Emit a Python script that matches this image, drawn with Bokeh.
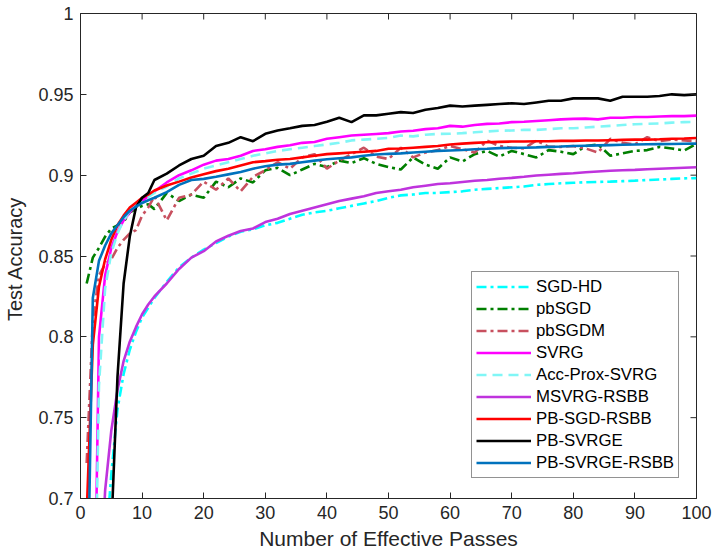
import math
from bokeh.plotting import figure
from bokeh.models import Range1d, FixedTicker, NumeralTickFormatter
from bokeh.embed import file_html
from bokeh.resources import INLINE

# ---------------- data ----------------
passes = list(range(1, 13)) + list(range(14, 101, 2))

sgd_hd = [0.40, 0.50, 0.59, 0.665, 0.715, 0.755, 0.777, 0.792, 0.803, 0.812, 0.818, 0.824,
          0.834, 0.843, 0.849, 0.854, 0.858, 0.862, 0.865, 0.8665, 0.869, 0.8705, 0.873,
          0.8755, 0.877, 0.878, 0.8795, 0.881, 0.8825, 0.884, 0.886, 0.8875, 0.888, 0.889,
          0.889, 0.8895, 0.890, 0.891, 0.8915, 0.892, 0.8925, 0.893, 0.894, 0.8945, 0.895,
          0.8953, 0.8956, 0.8958, 0.896, 0.8963, 0.8966, 0.897, 0.8973, 0.8977, 0.898, 0.8982]

pbsgd = [0.833, 0.849, 0.855, 0.862, 0.867, 0.869, 0.871, 0.877, 0.879, 0.881, 0.882, 0.879,
         0.889, 0.884, 0.888, 0.886, 0.896, 0.8925, 0.898, 0.8955, 0.903, 0.9045, 0.900,
         0.9035, 0.907, 0.905, 0.909, 0.9075, 0.9105, 0.907, 0.905, 0.9035, 0.911, 0.9065,
         0.904, 0.911, 0.9085, 0.913, 0.915, 0.9115, 0.915, 0.913, 0.911, 0.9155, 0.9145,
         0.913, 0.918, 0.919, 0.912, 0.9135, 0.915, 0.9155, 0.9175, 0.9165, 0.9152, 0.9194]

pbsgdm = [0.722, 0.81, 0.838, 0.845, 0.848, 0.855, 0.860, 0.864, 0.866, 0.875, 0.880, 0.887,
          0.872, 0.886, 0.888, 0.896, 0.891, 0.898, 0.890, 0.899, 0.903, 0.908, 0.904,
          0.911, 0.913, 0.904, 0.909, 0.913, 0.917, 0.9115, 0.910, 0.917, 0.911, 0.914,
          0.9155, 0.918, 0.916, 0.914, 0.9214, 0.918, 0.917, 0.9165, 0.9214, 0.9175, 0.9175,
          0.918, 0.9165, 0.914, 0.9225, 0.920, 0.919, 0.9235, 0.921, 0.922, 0.9215, 0.921]

svrg = [0.40, 0.55, 0.80, 0.838, 0.855, 0.865, 0.872, 0.877, 0.881, 0.884, 0.887, 0.890,
        0.8955, 0.900, 0.903, 0.9065, 0.909, 0.910, 0.912, 0.915, 0.916, 0.9175, 0.9185,
        0.920, 0.9205, 0.9225, 0.9235, 0.9245, 0.925, 0.9255, 0.926, 0.927, 0.9275, 0.9285,
        0.929, 0.9305, 0.930, 0.931, 0.9317, 0.932, 0.9328, 0.933, 0.9335, 0.934, 0.9345,
        0.9348, 0.935, 0.9345, 0.9355, 0.9355, 0.936, 0.936, 0.9363, 0.9365, 0.9365, 0.9368]

acc_prox_svrg = [0.40, 0.55, 0.77, 0.83, 0.852, 0.864, 0.872, 0.878, 0.882, 0.884, 0.8865, 0.889,
                 0.893, 0.898, 0.901, 0.904, 0.906, 0.908, 0.910, 0.912, 0.9135, 0.915, 0.916,
                 0.917, 0.918, 0.919, 0.920, 0.9215, 0.922, 0.9225, 0.923, 0.9245, 0.924, 0.925,
                 0.9255, 0.9256, 0.926, 0.9265, 0.927, 0.9275, 0.9276, 0.928, 0.928, 0.9285, 0.929,
                 0.929, 0.9295, 0.930, 0.9305, 0.931, 0.9315, 0.9318, 0.932, 0.9325, 0.9328, 0.933]

msvrg_rsbb = [0.45, 0.55, 0.63, 0.705, 0.742, 0.767, 0.785, 0.797, 0.806, 0.814, 0.820, 0.825,
              0.833, 0.842, 0.849, 0.853, 0.859, 0.8625, 0.8655, 0.867, 0.871, 0.873, 0.876,
              0.878, 0.880, 0.882, 0.884, 0.8855, 0.887, 0.889, 0.890, 0.891, 0.8925, 0.8935,
              0.8945, 0.895, 0.8958, 0.8965, 0.897, 0.8978, 0.8983, 0.899, 0.8998, 0.9003, 0.9008,
              0.9012, 0.9018, 0.9023, 0.9027, 0.903, 0.9033, 0.9037, 0.904, 0.9043, 0.9046, 0.9049]

pb_sgd_rsbb = [0.69, 0.795, 0.831, 0.848, 0.860, 0.869, 0.875, 0.880, 0.883, 0.886, 0.888, 0.8905,
               0.8936, 0.896, 0.8985, 0.9005, 0.9025, 0.904, 0.906, 0.908, 0.9087, 0.9095, 0.910,
               0.911, 0.912, 0.913, 0.9135, 0.914, 0.9145, 0.915, 0.9163, 0.9165, 0.917, 0.9175,
               0.918, 0.919, 0.9195, 0.920, 0.9204, 0.9206, 0.9208, 0.9208, 0.921, 0.921, 0.9212,
               0.9212, 0.9214, 0.9214, 0.9216, 0.9218, 0.922, 0.922, 0.9222, 0.9225, 0.9227, 0.923]

pb_svrge = [0.40, 0.48, 0.55, 0.62, 0.68, 0.775, 0.833, 0.862, 0.880, 0.886, 0.889, 0.897,
            0.901, 0.906, 0.910, 0.912, 0.918, 0.920, 0.9235, 0.921, 0.9256, 0.9276, 0.929,
            0.9305, 0.931, 0.933, 0.9355, 0.9328, 0.937, 0.937, 0.938, 0.939, 0.9385, 0.9405,
            0.9415, 0.943, 0.9425, 0.943, 0.9435, 0.944, 0.9445, 0.944, 0.945, 0.946, 0.946,
            0.9475, 0.9475, 0.9475, 0.946, 0.9485, 0.9485, 0.9485, 0.949, 0.950, 0.9495, 0.950]

pb_svrge_rsbb = [0.60, 0.824, 0.847, 0.8565, 0.864, 0.869, 0.874, 0.878, 0.8805, 0.8828, 0.8845, 0.886,
                 0.8895, 0.894, 0.897, 0.8977, 0.899, 0.9005, 0.902, 0.904, 0.9055, 0.9065, 0.907,
                 0.908, 0.909, 0.9098, 0.9105, 0.911, 0.912, 0.9128, 0.9132, 0.9135, 0.914, 0.9145,
                 0.915, 0.9153, 0.9156, 0.916, 0.9163, 0.9167, 0.9169, 0.917, 0.9172, 0.9175, 0.9177,
                 0.918, 0.9182, 0.9184, 0.9186, 0.9188, 0.919, 0.9191, 0.9192, 0.9193, 0.9194, 0.9195]

series_names = ["SGD-HD", "pbSGD", "pbSGDM", "SVRG", "Acc-Prox-SVRG",
                "MSVRG-RSBB", "PB-SGD-RSBB", "PB-SVRGE", "PB-SVRGE-RSBB"]
series_values = [sgd_hd, pbsgd, pbsgdm, svrg, acc_prox_svrg,
                 msvrg_rsbb, pb_sgd_rsbb, pb_svrge, pb_svrge_rsbb]

x_ticks = [0, 10, 20, 30, 40, 50, 60, 70, 80, 90, 100]
y_ticks = [0.7, 0.75, 0.8, 0.85, 0.9, 0.95, 1.0]
x_min, x_max = 0, 100
y_min, y_max = 0.7, 1.0

# ---------------- styles ----------------
styles = [
    dict(color="#00FFFF", dash="10 4 3 4"),
    dict(color="#007F00", dash="10 4 3 4"),
    dict(color="#C8505F", dash="10 4 3 4"),
    dict(color="#FF00FF", dash="solid"),
    dict(color="#80F6F6", dash="10 6"),
    dict(color="#BF33DD", dash="solid"),
    dict(color="#FF0000", dash="solid"),
    dict(color="#000000", dash="solid"),
    dict(color="#0072BD", dash="solid"),
]

FONT = "Liberation Sans"
TXT = "#262626"

p = figure(width=712, height=554, output_backend="svg", toolbar_location=None,
           x_range=Range1d(x_min, x_max), y_range=Range1d(y_min, y_max),
           min_border_left=80, min_border_right=16, min_border_top=13, min_border_bottom=56)
p.background_fill_color = "white"
p.border_fill_color = "white"
p.outline_line_color = TXT
p.outline_line_width = 1
p.xgrid.visible = False
p.ygrid.visible = False

for name, vals, st in zip(series_names, series_values, styles):
    p.line(passes, vals, line_color=st["color"], line_width=2.6, line_dash=st["dash"],
           legend_label=name)

# inward ticks on the top and right edges of the box
p.ray(x=x_ticks, y=[y_max] * len(x_ticks), length=6, length_units="screen",
      angle=-math.pi / 2, line_color=TXT, line_width=1)
p.ray(x=[x_max] * len(y_ticks), y=y_ticks, length=6, length_units="screen",
      angle=math.pi, line_color=TXT, line_width=1)

def style_axis(ax):
    ax.axis_line_color = TXT
    ax.major_tick_line_color = TXT
    ax.major_tick_in = 6
    ax.major_tick_out = 0
    ax.minor_tick_in = 0
    ax.minor_tick_out = 0
    ax.major_label_text_font = FONT
    ax.major_label_text_color = TXT
    ax.major_label_text_font_size = "18px"
    ax.major_label_standoff = 7
    ax.axis_label_text_font = FONT
    ax.axis_label_text_color = TXT
    ax.axis_label_text_font_style = "normal"

xa = p.xaxis[0]
xa.ticker = FixedTicker(ticks=x_ticks)
xa.axis_label = "Number of Effective Passes"
style_axis(xa)
xa.axis_label_text_font_size = "21px"
xa.axis_label_standoff = 5

ya = p.yaxis[0]
ya.ticker = FixedTicker(ticks=y_ticks)
ya.formatter = NumeralTickFormatter(format="0.[00]")
ya.axis_label = "Test  Accuracy"
style_axis(ya)
ya.axis_label_text_font_size = "20px"
ya.axis_label_standoff = 9

lg = p.legend[0]
lg.location = (391, 20)
lg.border_line_color = TXT
lg.border_line_width = 1
lg.background_fill_color = "white"
lg.background_fill_alpha = 1
lg.label_text_font = FONT
lg.label_text_font_size = "16.8px"
lg.label_text_color = "#000000"
lg.glyph_width = 55
lg.glyph_height = 21
lg.label_height = 21
lg.spacing = 1
lg.padding = 4
lg.margin = 0
lg.label_standoff = 5

open("out.html", "w").write(file_html(p, INLINE))
